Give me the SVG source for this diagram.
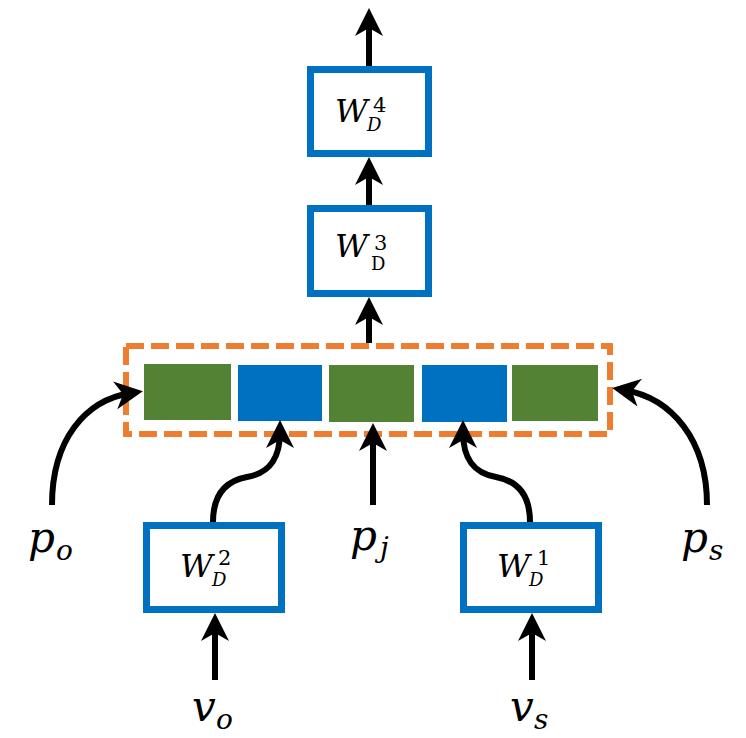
<svg xmlns="http://www.w3.org/2000/svg" width="746" height="738" viewBox="0 0 746 738">
  <style>
    .box { fill: #ffffff; stroke: #0070C0; stroke-width: 7; }
    .cell-g { fill: #548235; }
    .cell-b { fill: #0070C0; }
    .frame { fill: none; stroke: #ED7D31; stroke-width: 6; stroke-dasharray: 18 7; }
    .wire { fill: none; stroke: #000; stroke-width: 6; marker-end: url(#head); }
    .m { font-family: "DejaVu Serif", "Liberation Serif", serif; font-style: italic; fill: #000; }
    .r { font-family: "DejaVu Serif", "Liberation Serif", serif; font-style: normal; fill: #000; }
    .big { font-size: 32px; }
    .sup { font-size: 21px; }
    .sub { font-size: 18px; }
  </style>
  <defs>
    <marker id="head" markerUnits="userSpaceOnUse" viewBox="-18 -16 32 32" refX="0" refY="0" markerWidth="32" markerHeight="32" orient="auto">
      <path d="M12,0 L-16,-14 L-8,0 L-16,14 Z" fill="#000"/>
    </marker>
  </defs>

  <rect width="746" height="738" fill="#ffffff"/>

  <!-- concatenated feature vector -->
  <g id="concat">
    <rect class="frame" x="126" y="346" width="484" height="88"/>
    <rect class="cell-g" x="144" y="364" width="87" height="56"/>
    <rect class="cell-b" x="238" y="365" width="84" height="56"/>
    <rect class="cell-g" x="329" y="365" width="85" height="57"/>
    <rect class="cell-b" x="422" y="365" width="85" height="57"/>
    <rect class="cell-g" x="512" y="365" width="86" height="56"/>
  </g>

  <g id="w4">
    <rect class="box" x="310.5" y="69.5" width="118" height="84"/>
    <text class="m big" x="335" y="122">W</text>
    <text class="r sup" x="373" y="112">4</text>
    <text class="m sub" x="367" y="131">D</text>
  </g>

  <g id="w3">
    <rect class="box" x="310.5" y="208.5" width="118" height="85"/>
    <text class="m big" x="335" y="257">W</text>
    <text class="r sup" x="374" y="250">3</text>
    <text class="r sub" x="371" y="270">D</text>
  </g>

  <g id="w2">
    <rect class="box" x="146.5" y="525.5" width="135" height="84"/>
    <text class="m big" x="180" y="577">W</text>
    <text class="r sup" x="218" y="565">2</text>
    <text class="m sub" x="212" y="586">D</text>
  </g>

  <g id="w1">
    <rect class="box" x="463.5" y="525.5" width="135" height="84"/>
    <text class="m big" x="497" y="577">W</text>
    <text class="r sup" x="537" y="565">1</text>
    <text class="m sub" x="529" y="586">D</text>
  </g>

  <g id="po">
    <text class="m" x="28" y="552" font-size="42">p</text>
    <text class="m" x="56" y="560" font-size="28">o</text>
  </g>
  <g id="pj">
    <text class="m" x="350" y="550" font-size="42">p</text>
    <text class="m" x="380" y="557" font-size="28">j</text>
  </g>
  <g id="ps">
    <text class="m" x="681" y="552" font-size="42">p</text>
    <text class="m" x="709" y="560" font-size="28">s</text>
  </g>
  <g id="vo">
    <text class="m" x="192" y="721" font-size="42">v</text>
    <text class="m" x="216" y="729" font-size="28">o</text>
  </g>
  <g id="vs">
    <text class="m" x="510" y="721" font-size="42">v</text>
    <text class="m" x="534" y="729" font-size="28">s</text>
  </g>

  <!-- connectors -->
  <g id="connectors">
    <path class="wire" d="M369,66 L369,20"/>
    <path class="wire" d="M369,205 L369,169"/>
    <path class="wire" d="M369,343 L369,309"/>
    <path class="wire" d="M373,505 L373,435"/>
    <path class="wire" d="M215,680 L215,625"/>
    <path class="wire" d="M532,680 L532,625"/>
    <path class="wire" d="M52,505 C52,440 85,400 131,393"/>
    <path class="wire" d="M707,505 C707,440 672,398 624,390"/>
    <path class="wire" d="M213,522 C213,495 225,481 247,477 C270,473 280,458 280,432"/>
    <path class="wire" d="M530,522 C530,495 518,481 496,477 C473,473 463,458 463,432"/>
  </g>
</svg>
